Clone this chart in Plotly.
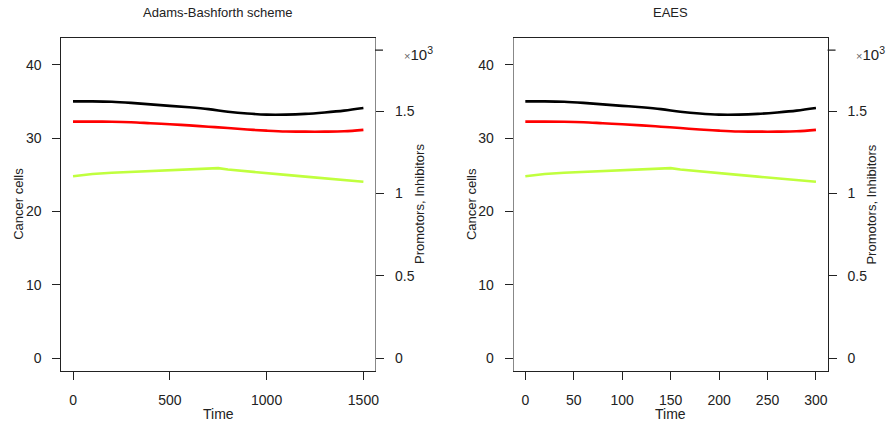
import plotly.graph_objects as go

# ---- data ----
t_ab = [0, 100, 200, 300, 400, 500, 600, 700, 800, 900, 1000, 1100, 1200, 1300, 1400, 1500]
t_ab_green = [0, 100, 200, 300, 400, 500, 600, 700, 750, 800, 900, 1000, 1100, 1200, 1300, 1400, 1500]
cancer_ab = [35.0, 35.0, 34.95, 34.8, 34.6, 34.4, 34.2, 33.95, 33.6, 33.35, 33.2, 33.2, 33.3, 33.5, 33.75, 34.1]
promotor_ab = [1.436, 1.436, 1.435, 1.432, 1.426, 1.420, 1.413, 1.405, 1.397, 1.388, 1.381, 1.376, 1.375, 1.375, 1.377, 1.386]
inhibitor_ab = [1.104, 1.118, 1.126, 1.131, 1.135, 1.138, 1.142, 1.148, 1.154, 1.145, 1.133, 1.123, 1.113, 1.102, 1.092, 1.082, 1.071]

t_eaes = [0, 20, 40, 60, 80, 100, 120, 140, 160, 180, 200, 220, 240, 260, 280, 300]
t_eaes_green = [0, 20, 40, 60, 80, 100, 120, 140, 150, 160, 180, 200, 220, 240, 260, 280, 300]
cancer_eaes = [35.0, 35.0, 34.95, 34.8, 34.6, 34.4, 34.2, 33.95, 33.6, 33.35, 33.2, 33.2, 33.3, 33.5, 33.75, 34.1]
promotor_eaes = [1.436, 1.436, 1.435, 1.432, 1.426, 1.420, 1.413, 1.405, 1.397, 1.388, 1.381, 1.376, 1.375, 1.375, 1.377, 1.386]
inhibitor_eaes = [1.104, 1.118, 1.126, 1.131, 1.135, 1.138, 1.142, 1.148, 1.154, 1.145, 1.133, 1.123, 1.113, 1.102, 1.092, 1.082, 1.071]

left_ticks = [0, 10, 20, 30, 40]
right_ticks = [0, 0.5, 1, 1.5]
right_top_tick = 1.87
x_ticks_ab = [0, 500, 1000, 1500]
x_ticks_eaes = [0, 50, 100, 150, 200, 250, 300]

titles = ["Adams-Bashforth scheme", "EAES"]

W, H = 894, 429
FONT = "Liberation Sans, Arial, sans-serif"
INK = "#222222"
GREEN = "#c0ff3e"

fig = go.Figure()

def add_panel(t, tg, c, p, i, xa, ya, ya2):
    fig.add_trace(go.Scatter(x=t, y=c, mode="lines", line=dict(color="black", width=2.6, shape="spline"),
                             xaxis=xa, yaxis=ya, showlegend=False))
    fig.add_trace(go.Scatter(x=t, y=p, mode="lines", line=dict(color="#ff0000", width=2.6, shape="spline"),
                             xaxis=xa, yaxis=ya2, showlegend=False))
    fig.add_trace(go.Scatter(x=tg, y=i, mode="lines", line=dict(color=GREEN, width=2.6),
                             xaxis=xa, yaxis=ya2, showlegend=False))

add_panel(t_ab, t_ab_green, cancer_ab, promotor_ab, inhibitor_ab, "x", "y", "y2")
add_panel(t_eaes, t_eaes_green, cancer_eaes, promotor_eaes, inhibitor_eaes, "x2", "y3", "y4")

ydom = [1 - 370.7 / H, 1 - 37.7 / H]
xdom1 = [61.7 / W, 376.7 / W]
xdom2 = [516.0 / W, 831.3 / W]

tickfont = dict(family=FONT, size=14, color=INK)
common_x = dict(ticks="outside", ticklen=8, tickcolor=INK, showline=True, linecolor=INK,
                linewidth=1.3, mirror=True, showgrid=False, zeroline=False, tickfont=tickfont,
                ticklabelstandoff=8)
common_y = dict(ticks="outside", ticklen=8, tickcolor=INK, showline=True, linecolor=INK,
                linewidth=1.3, showgrid=False, zeroline=False, tickfont=tickfont,
                ticklabelstandoff=8)

fig.update_layout(
    width=W, height=H, margin=dict(l=0, r=0, t=0, b=0),
    paper_bgcolor="white", plot_bgcolor="white",
    xaxis=dict(domain=xdom1, anchor="y", range=[-60, 1560], tickvals=x_ticks_ab, **common_x),
    yaxis=dict(domain=ydom, anchor="x", range=[-1.68, 43.68], tickvals=left_ticks, **common_y),
    yaxis2=dict(overlaying="y", side="right", anchor="x", range=[-0.0748, 1.9448],
                tickvals=right_ticks, **common_y),
    xaxis2=dict(domain=xdom2, anchor="y3", range=[-12, 312], tickvals=x_ticks_eaes, **common_x),
    yaxis3=dict(domain=ydom, anchor="x2", range=[-1.68, 43.68], tickvals=left_ticks, **common_y),
    yaxis4=dict(overlaying="y3", side="right", anchor="x2", range=[-0.0748, 1.9448],
                tickvals=right_ticks, **common_y),
)
fig.layout.yaxis2.linecolor = "#888888"
fig.layout.yaxis3.linecolor = "#888888"

# unlabeled top tick on the right axes (the x10^3 multiplier position)
for xd, yref in [(xdom1, "y2"), (xdom2, "y4")]:
    fig.add_shape(type="line", xref="paper", yref=yref, x0=xd[1], x1=xd[1] + 8 / W,
                  y0=right_top_tick, y1=right_top_tick, line=dict(color=INK, width=1.3))

ann = []
for k, (xd, title) in enumerate([(xdom1, titles[0]), (xdom2, titles[1])]):
    xc = (xd[0] + xd[1]) / 2
    yc = (ydom[0] + ydom[1]) / 2
    base = dict(xref="paper", yref="paper", showarrow=False, xanchor="center", yanchor="middle")
    ann.append(dict(text=title, x=xc, y=1 - 13 / H,
                    font=dict(family=FONT, size=13, color=INK), **base))
    ann.append(dict(text="Time", x=xc, y=1 - 414 / H,
                    font=dict(family=FONT, size=14, color=INK), **base))
    ann.append(dict(text="Cancer cells", x=xd[0] - 43 / W, y=yc, textangle=-90,
                    font=dict(family=FONT, size=13, color=INK), **base))
    ann.append(dict(text="Promotors, Inhibitors", x=xd[1] + 44 / W, y=yc, textangle=-90,
                    font=dict(family=FONT, size=13, color=INK), **base))
    b2 = dict(base)
    b2["xanchor"] = "left"
    ann.append(dict(text="<span style='font-size:11px;color:#666'>×</span>10<sup>3</sup>",
                    x=xd[1] + 27 / W, y=1 - 53 / H,
                    font=dict(family=FONT, size=15, color=INK), **b2))
fig.update_layout(annotations=ann)

fig.write_html("out.html")
